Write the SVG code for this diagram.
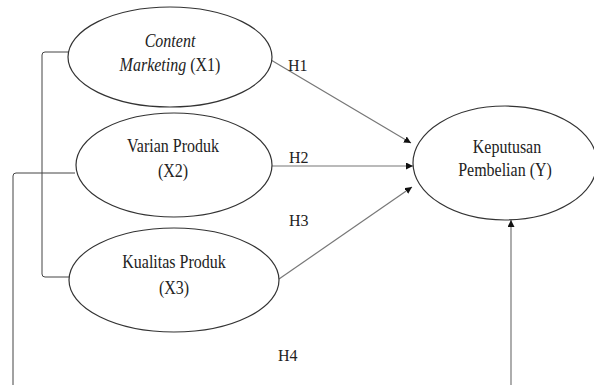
<svg xmlns="http://www.w3.org/2000/svg" width="594" height="385" viewBox="0 0 594 385">
<style>
.node{fill:#fff;stroke:#333;stroke-width:1.2}
.t{font-family:"Liberation Serif","Times New Roman","DejaVu Serif",serif;font-size:16px;fill:#222;text-anchor:middle}
.it{font-style:italic}
.lbl{font-family:"Liberation Serif","Times New Roman","DejaVu Serif",serif;font-size:16px;fill:#222}
.c{fill:none;stroke:#444;stroke-width:1}
.a{fill:none;stroke:#777;stroke-width:1.2}
</style>
<defs>
<marker id="ah" viewBox="0 0 10 10" refX="10" refY="5" markerWidth="7" markerHeight="7" markerUnits="userSpaceOnUse" orient="auto">
<path d="M0,0 L10,5 L0,10 Z" fill="#111"/>
</marker>
</defs>
<rect width="594" height="385" fill="#fff"/>
<g id="connectors">
<path class="a" d="M271,60 L411,143" marker-end="url(#ah)"/>
<path class="a" d="M272,166 L413,166" marker-end="url(#ah)"/>
<path class="a" d="M279,279 L412,187" marker-end="url(#ah)"/>
<path class="a" d="M511,385 L511,220" marker-end="url(#ah)"/>
<path class="c" d="M69,52 L45,52 Q42,52 42,55 L42,274 Q42,277 45,277 L69,277"/>
<path class="c" d="M75,173 L16,173 Q13,173 13,176 L13,385"/>
</g>
<g id="x1">
<ellipse class="node" cx="170" cy="57" rx="102" ry="50"/>
<text class="t it" transform="translate(170,47) scale(1,1.15)">Content</text>
<text class="t" transform="translate(170,71) scale(1,1.15)"><tspan class="it">Marketing</tspan> (X1)</text>
</g>
<g id="x2">
<ellipse class="node" cx="174" cy="165" rx="98" ry="52"/>
<text class="t" transform="translate(173,152) scale(1,1.15)">Varian Produk</text>
<text class="t" transform="translate(173,177) scale(1,1.15)">(X2)</text>
</g>
<g id="x3">
<ellipse class="node" cx="174" cy="280" rx="105" ry="52"/>
<text class="t" transform="translate(174,268) scale(1,1.15)">Kualitas Produk</text>
<text class="t" transform="translate(174,294) scale(1,1.15)">(X3)</text>
</g>
<g id="y">
<ellipse class="node" cx="505" cy="163" rx="92" ry="57"/>
<text class="t" transform="translate(507,153) scale(1,1.15)">Keputusan</text>
<text class="t" transform="translate(505,176) scale(1,1.15)">Pembelian (Y)</text>
</g>
<g id="labels">
<text class="lbl" x="288" y="71">H1</text>
<text class="lbl" x="289" y="163">H2</text>
<text class="lbl" x="289" y="226">H3</text>
<text class="lbl" x="278" y="361">H4</text>
</g>
</svg>
